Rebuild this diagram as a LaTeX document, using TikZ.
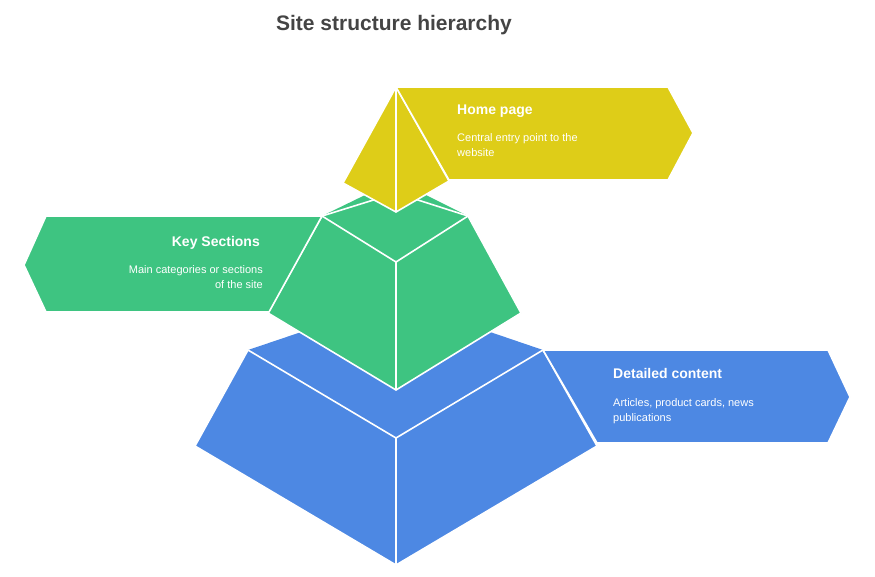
\documentclass[tikz,border=0pt]{standalone}
\usepackage{fontspec}
\setmainfont{Liberation Sans}
\begin{document}
\begin{tikzpicture}[x=1pt,y=-1pt,
  face/.style={draw=white,line width=1.6pt,line join=round},
  ttl/.style={text=white,font=\bfseries\fontsize{14}{17}\selectfont,inner sep=0},
  body/.style={text=white,font=\fontsize{11}{15}\selectfont,inner sep=0,align=left}]
\definecolor{cy}{RGB}{222,205,24}
\definecolor{cg}{RGB}{62,196,129}
\definecolor{cb}{RGB}{77,136,227}
\definecolor{tc}{RGB}{68,68,68}
\useasboundingbox (0,0) rectangle (875,576);
\node[text=tc,font=\bfseries\fontsize{21}{25}\selectfont] (title) at (394,25) {Site structure hierarchy};
% blue
\fill[cb] (248,350)--(396,300)--(543,350)--(396,438)--cycle;
\filldraw[face,fill=cb] (248,350)--(396,438)--(396,565)--(195,446)--cycle;
\filldraw[face,fill=cb] (396,438)--(543,350)--(597,446)--(396,565)--cycle;
\filldraw[face,fill=cb] (543,350)--(828,350)--(850,397)--(828,443)--(597,443)--cycle;
% green
\fill[cg] (322,216)--(396,180)--(468,216)--(396,262)--cycle;
\filldraw[face,fill=cg] (322,216)--(396,262)--(396,390)--(268,313)--cycle;
\filldraw[face,fill=cg] (396,262)--(468,216)--(521,313)--(396,390)--cycle;
\filldraw[face,fill=cg] (322,216)--(46,216)--(24,265)--(46,312)--(269,312)--cycle;
\draw[face] (322,216)--(396,193)--(468,216);
% yellow
\filldraw[face,fill=cy] (396,87)--(343,183)--(396,212)--cycle;
\filldraw[face,fill=cy] (396,87)--(396,212)--(449,181)--cycle;
\filldraw[face,fill=cy] (396,87)--(668,87)--(693,133)--(668,180)--(449,180)--cycle;
% texts
\node[ttl,anchor=base west] (t1) at (457,114) {Home page};
\node[body,anchor=north west] (b1) at (457,133) {Central entry point to the\\website};
\node[ttl,anchor=base east] (t2) at (260,246) {Key Sections};
\node[body,anchor=north east,align=right] (b2) at (263,265) {Main categories or sections\\of the site};
\node[ttl,anchor=base west] (t3) at (613,378) {Detailed content};
\node[body,anchor=north west] (b3) at (613,398) {Articles, product cards, news\\publications};
\end{tikzpicture}
\end{document}
